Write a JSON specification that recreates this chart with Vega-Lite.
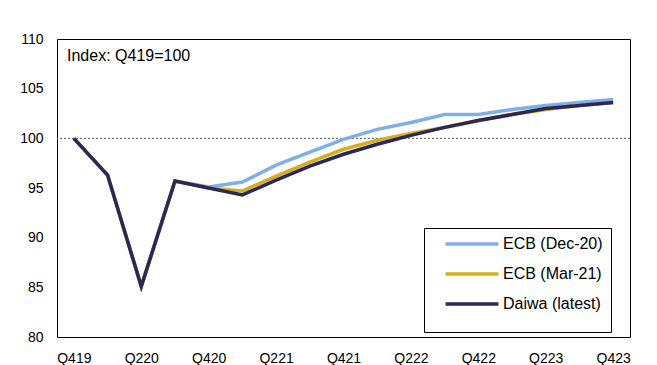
{
  "$schema": "https://vega.github.io/schema/vega-lite/v6.json",
  "width": 573,
  "height": 298,
  "autosize": "none",
  "padding": {"left": 57, "top": 39, "right": 27, "bottom": 28},
  "background": "white",
  "config": {
    "font": "Liberation Sans",
    "view": {"stroke": "#000", "strokeWidth": 1},
    "axis": {"domain": false, "ticks": false, "grid": false, "labelFont": "Liberation Sans", "labelFontSize": 14, "labelColor": "#000", "title": null}
  },
  "title": {"text": "Index: Q419=100", "anchor": "start", "frame": "group", "offset": -32, "dx": 10, "fontSize": 16, "fontWeight": "normal", "font": "Liberation Sans", "color": "#000"},
  "data": {"values": [
    {"q": "Q419", "s": "ECB (Dec-20)", "v": 100},
    {"q": "Q120", "s": "ECB (Dec-20)", "v": 96.3},
    {"q": "Q220", "s": "ECB (Dec-20)", "v": 85.1},
    {"q": "Q320", "s": "ECB (Dec-20)", "v": 95.7},
    {"q": "Q420", "s": "ECB (Dec-20)", "v": 95.1},
    {"q": "Q121", "s": "ECB (Dec-20)", "v": 95.6},
    {"q": "Q221", "s": "ECB (Dec-20)", "v": 97.3},
    {"q": "Q321", "s": "ECB (Dec-20)", "v": 98.6},
    {"q": "Q421", "s": "ECB (Dec-20)", "v": 99.9},
    {"q": "Q122", "s": "ECB (Dec-20)", "v": 100.9},
    {"q": "Q222", "s": "ECB (Dec-20)", "v": 101.6},
    {"q": "Q322", "s": "ECB (Dec-20)", "v": 102.4},
    {"q": "Q422", "s": "ECB (Dec-20)", "v": 102.4},
    {"q": "Q123", "s": "ECB (Dec-20)", "v": 102.9},
    {"q": "Q223", "s": "ECB (Dec-20)", "v": 103.3},
    {"q": "Q323", "s": "ECB (Dec-20)", "v": 103.6},
    {"q": "Q423", "s": "ECB (Dec-20)", "v": 103.9},
    {"q": "Q419", "s": "ECB (Mar-21)", "v": 100},
    {"q": "Q120", "s": "ECB (Mar-21)", "v": 96.3},
    {"q": "Q220", "s": "ECB (Mar-21)", "v": 85.1},
    {"q": "Q320", "s": "ECB (Mar-21)", "v": 95.7},
    {"q": "Q420", "s": "ECB (Mar-21)", "v": 95.0},
    {"q": "Q121", "s": "ECB (Mar-21)", "v": 94.7},
    {"q": "Q221", "s": "ECB (Mar-21)", "v": 96.2},
    {"q": "Q321", "s": "ECB (Mar-21)", "v": 97.6},
    {"q": "Q421", "s": "ECB (Mar-21)", "v": 98.9},
    {"q": "Q122", "s": "ECB (Mar-21)", "v": 99.8},
    {"q": "Q222", "s": "ECB (Mar-21)", "v": 100.5},
    {"q": "Q322", "s": "ECB (Mar-21)", "v": 101.1},
    {"q": "Q422", "s": "ECB (Mar-21)", "v": 101.8},
    {"q": "Q123", "s": "ECB (Mar-21)", "v": 102.4},
    {"q": "Q223", "s": "ECB (Mar-21)", "v": 102.9},
    {"q": "Q323", "s": "ECB (Mar-21)", "v": 103.3},
    {"q": "Q423", "s": "ECB (Mar-21)", "v": 103.6},
    {"q": "Q419", "s": "Daiwa (latest)", "v": 100},
    {"q": "Q120", "s": "Daiwa (latest)", "v": 96.3},
    {"q": "Q220", "s": "Daiwa (latest)", "v": 85.1},
    {"q": "Q320", "s": "Daiwa (latest)", "v": 95.7},
    {"q": "Q420", "s": "Daiwa (latest)", "v": 95.0},
    {"q": "Q121", "s": "Daiwa (latest)", "v": 94.3},
    {"q": "Q221", "s": "Daiwa (latest)", "v": 95.8},
    {"q": "Q321", "s": "Daiwa (latest)", "v": 97.2},
    {"q": "Q421", "s": "Daiwa (latest)", "v": 98.4},
    {"q": "Q122", "s": "Daiwa (latest)", "v": 99.4},
    {"q": "Q222", "s": "Daiwa (latest)", "v": 100.3},
    {"q": "Q322", "s": "Daiwa (latest)", "v": 101.1},
    {"q": "Q422", "s": "Daiwa (latest)", "v": 101.8},
    {"q": "Q123", "s": "Daiwa (latest)", "v": 102.4},
    {"q": "Q223", "s": "Daiwa (latest)", "v": 103.0},
    {"q": "Q323", "s": "Daiwa (latest)", "v": 103.3},
    {"q": "Q423", "s": "Daiwa (latest)", "v": 103.6}
  ]},
  "layer": [
    {
      "data": {"values": [{"ref": 100}]},
      "mark": {"type": "rule", "color": "#555", "strokeDash": [2, 2], "strokeWidth": 1},
      "encoding": {"y": {"field": "ref", "type": "quantitative"}}
    },
    {
      "mark": {"type": "line", "strokeWidth": 3.5, "strokeJoin": "miter"},
      "encoding": {
        "x": {"field": "q", "type": "ordinal", "sort": null,
              "scale": {"type": "point", "padding": 0.5},
              "axis": {"labelAngle": 0, "labelPadding": 14, "values": ["Q419", "Q220", "Q420", "Q221", "Q421", "Q222", "Q422", "Q223", "Q423"]}},
        "y": {"field": "v", "type": "quantitative",
              "scale": {"domain": [80, 110], "nice": false, "zero": false},
              "axis": {"values": [80, 85, 90, 95, 100, 105, 110], "labelPadding": 14}},
        "color": {"field": "s", "type": "nominal", "sort": null,
                  "scale": {"domain": ["ECB (Dec-20)", "ECB (Mar-21)", "Daiwa (latest)"], "range": ["#7DB1E3", "#D7AE1F", "#2B2858"]},
                  "legend": {"title": " ", "titleOrient": "bottom", "titleFontSize": 8, "titlePadding": 4,
                             "orient": "none", "legendX": 367, "legendY": 189,
                             "strokeColor": "#000", "fillColor": "#fff", "padding": 8,
                             "symbolType": "M-5,0H5", "symbolSize": 112, "symbolStrokeWidth": 3.5,
                             "symbolOffset": 32, "labelOffset": 23, "rowPadding": 14,
                             "labelFontSize": 16, "labelFont": "Liberation Sans", "labelColor": "#000"}}
      }
    }
  ]
}
